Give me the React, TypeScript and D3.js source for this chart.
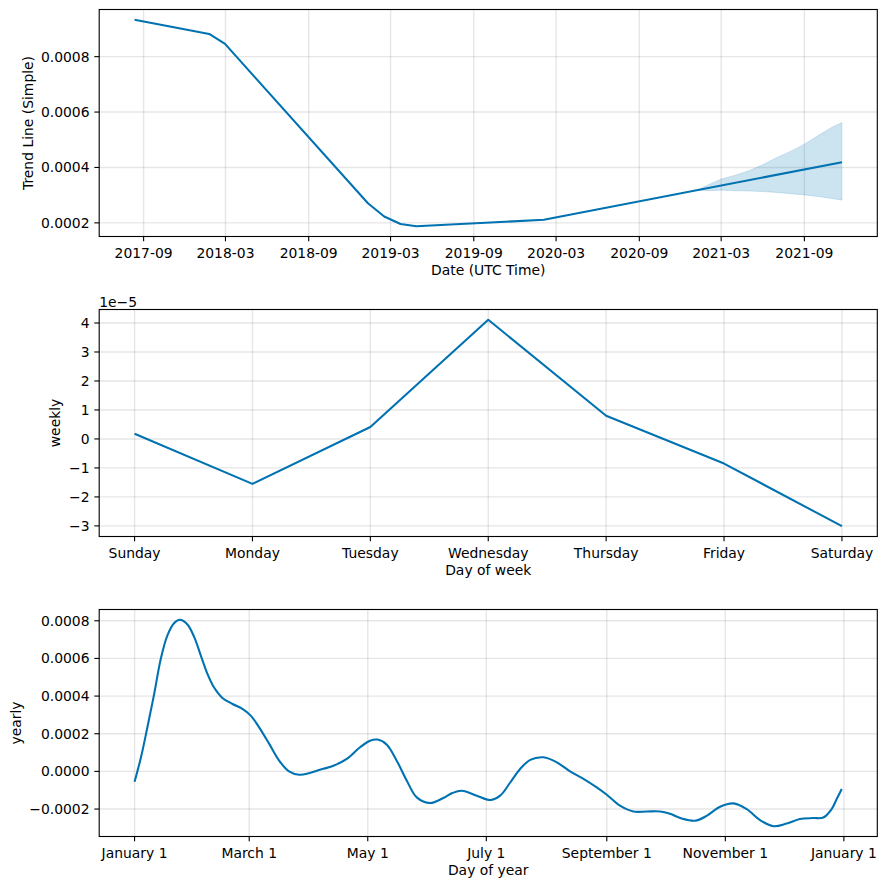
import React from "react";
import * as d3 from "d3";

// ---------- Data ----------
const trendDates = ["2017-08-12", "2018-01-24", "2018-02-28", "2019-01-10", "2019-02-15", "2019-03-23", "2019-04-27", "2020-02-03", "2021-11-23"];
const trendValues = [0.000933, 0.000882, 0.000846, 0.000271, 0.000223, 0.000196, 0.000188, 0.000211, 0.000419];

const bandDates = ["2021-01-06", "2021-02-01", "2021-03-01", "2021-04-01", "2021-05-01", "2021-06-01", "2021-07-01", "2021-08-01", "2021-09-01", "2021-10-01", "2021-11-01", "2021-11-23"];
const bandUpper = [0.000318, 0.000338, 0.000358, 0.000372, 0.000388, 0.00041, 0.000435, 0.000458, 0.000484, 0.000515, 0.000545, 0.000562];
const bandLower = [0.000318, 0.000316, 0.000318, 0.000316, 0.000315, 0.000313, 0.00031, 0.000305, 0.000301, 0.000295, 0.000288, 0.000282];

const trendTickLabels = ["2017-09", "2018-03", "2018-09", "2019-03", "2019-09", "2020-03", "2020-09", "2021-03", "2021-09"];
const trendYTicks = [0.0002, 0.0004, 0.0006, 0.0008];

const weekDays = ["Sunday", "Monday", "Tuesday", "Wednesday", "Thursday", "Friday", "Saturday"];
const weeklyValues = [0.18e-5, -1.55e-5, 0.41e-5, 4.11e-5, 0.8e-5, -0.85e-5, -3.01e-5];
const weeklyYTicks = [-3, -2, -1, 0, 1, 2, 3, 4];

const yearlyDays = [0, 3.3, 6.6, 10.1, 13.5, 16.9, 20.3, 23.4, 27.2, 30.7, 34.1, 37.5, 41, 45.2, 50.4, 55.5, 59.8, 64.1, 69.3, 74.4, 79.5, 84.7, 90, 93.8, 102.3, 109.2, 116, 121.2, 125, 129.8, 134.9, 140.1, 145.2, 152.1, 158.9, 163.5, 168.4, 176.1, 183, 188.1, 193.3, 198.4, 203.6, 210.4, 217.3, 224.1, 231, 237.8, 243, 249.8, 256.7, 263.5, 270.4, 275.5, 281.5, 288.4, 294.4, 301.3, 308.1, 315, 321.9, 328.7, 335.6, 342.4, 349.3, 354.4, 358.7, 361.3, 363.9];
const yearlyValues = [-0.000055, 0.000075, 0.000234, 0.000412, 0.000598, 0.000722, 0.000787, 0.000805, 0.00078, 0.000713, 0.000615, 0.000518, 0.000444, 0.00039, 0.000358, 0.000332, 0.000296, 0.000234, 0.000146, 0.000057, 0.0, -0.000018, -0.000009, 0.000004, 0.00003, 0.000066, 0.000128, 0.000163, 0.000169, 0.000142, 0.000057, -0.00005, -0.000138, -0.000168, -0.000141, -0.000115, -0.000103, -0.000129, -0.000152, -0.000129, -0.000059, 0.000013, 0.000061, 0.000075, 0.000048, 0.0, -0.00004, -0.000085, -0.000124, -0.000182, -0.000213, -0.000213, -0.000213, -0.000225, -0.00025, -0.000262, -0.000236, -0.000188, -0.00017, -0.0002, -0.000259, -0.000291, -0.000277, -0.000253, -0.000248, -0.000245, -0.0002, -0.000147, -0.000094];
const yearlyTickDays = [0, 59, 120, 181, 243, 304, 365];
const yearlyTickLabels = ["January 1", "March 1", "May 1", "July 1", "September 1", "November 1", "January 1"];
const yearlyYTicks = [-0.0002, 0, 0.0002, 0.0004, 0.0006, 0.0008];

// ---------- Layout ----------
const W = 886, H = 889;
const L = 99.2, R = 877.3;
const PH = 227;
const TOPS = [9.5, 309.5, 609.5];
const LINE = "#0072B2";
const FONT = "'DejaVu Sans', sans-serif";
const FS = 13.9;
const TICK = 4.86;

const parse = d3.utcParse("%Y-%m-%d");

function pad(ext: [number, number], frac = 0.05): [number, number] {
  const r = ext[1] - ext[0];
  return [ext[0] - r * frac, ext[1] + r * frac];
}

type Tick = { pos: number; label: string };

function Frame({ top, xTicks, yTicks, xLabel, yLabel, yLabelX, children }: {
  top: number; xTicks: Tick[]; yTicks: Tick[]; xLabel: string; yLabel: string; yLabelX: number; children?: React.ReactNode;
}) {
  const bottom = top + PH;
  return (
    <g>
      {/* grid */}
      {xTicks.map((t, i) => (
        <line key={"gx" + i} x1={t.pos} x2={t.pos} y1={top} y2={bottom} stroke="gray" strokeOpacity={0.2} strokeWidth={1.39} />
      ))}
      {yTicks.map((t, i) => (
        <line key={"gy" + i} x1={L} x2={R} y1={t.pos} y2={t.pos} stroke="gray" strokeOpacity={0.2} strokeWidth={1.39} />
      ))}
      <defs>
        <clipPath id={"clip" + top}>
          <rect x={L} y={top} width={R - L} height={PH} />
        </clipPath>
      </defs>
      <g clipPath={`url(#clip${top})`}>{children}</g>
      <rect x={L} y={top} width={R - L} height={PH} fill="none" stroke="#000" strokeWidth={1.11} />
      {xTicks.map((t, i) => (
        <g key={"tx" + i}>
          <line x1={t.pos} x2={t.pos} y1={bottom} y2={bottom + TICK} stroke="#000" strokeWidth={1.11} />
          <text x={t.pos} y={bottom + 21.5} textAnchor="middle" fontSize={FS} fontFamily={FONT} fill="#000">{t.label}</text>
        </g>
      ))}
      {yTicks.map((t, i) => (
        <g key={"ty" + i}>
          <line x1={L - TICK} x2={L} y1={t.pos} y2={t.pos} stroke="#000" strokeWidth={1.11} />
          <text x={L - 9.7} y={t.pos} dy="0.36em" textAnchor="end" fontSize={FS} fontFamily={FONT} fill="#000">{t.label}</text>
        </g>
      ))}
      <text x={(L + R) / 2} y={bottom + 38.5} textAnchor="middle" fontSize={FS} fontFamily={FONT} fill="#000">{xLabel}</text>
      <text transform={`translate(${yLabelX},${top + PH / 2}) rotate(-90)`} textAnchor="middle" fontSize={FS} fontFamily={FONT} fill="#000">{yLabel}</text>
    </g>
  );
}

export default function App() {
  // ---- Panel 1: trend ----
  const tDates = trendDates.map((d) => parse(d) as Date);
  const bDates = bandDates.map((d) => parse(d) as Date);
  const tExt = d3.extent(tDates) as [Date, Date];
  const [x0, x1] = pad([+tExt[0], +tExt[1]]);
  const x1s = d3.scaleUtc().domain([new Date(x0), new Date(x1)]).range([L, R]);
  const allTrend = [...trendValues, ...bandUpper, ...bandLower];
  const y1s = d3.scaleLinear().domain(pad(d3.extent(allTrend) as [number, number])).range([TOPS[0] + PH, TOPS[0]]);
  const trendLine = d3.line<number>().x((_, i) => x1s(tDates[i])).y((v) => y1s(v))(trendValues) || "";
  const bandArea = d3.area<number>().x((_, i) => x1s(bDates[i])).y0((_, i) => y1s(bandLower[i])).y1((v) => y1s(v))(bandUpper) || "";
  const t1x: Tick[] = trendTickLabels.map((s) => ({ pos: x1s(parse(s + "-01") as Date), label: s }));
  const t1y: Tick[] = trendYTicks.map((v) => ({ pos: y1s(v), label: d3.format(".4f")(v) }));

  // ---- Panel 2: weekly ----
  const x2s = d3.scaleLinear().domain(pad([0, weekDays.length - 1])).range([L, R]);
  const y2s = d3.scaleLinear().domain(pad(d3.extent(weeklyValues) as [number, number])).range([TOPS[1] + PH, TOPS[1]]);
  const weeklyLine = d3.line<number>().x((_, i) => x2s(i)).y((v) => y2s(v))(weeklyValues) || "";
  const t2x: Tick[] = weekDays.map((d, i) => ({ pos: x2s(i), label: d }));
  const t2y: Tick[] = weeklyYTicks.map((v) => ({ pos: y2s(v * 1e-5), label: d3.format("d")(v) }));

  // ---- Panel 3: yearly ----
  const x3s = d3.scaleLinear().domain(pad([0, 364])).range([L, R]);
  const y3s = d3.scaleLinear().domain(pad(d3.extent(yearlyValues) as [number, number])).range([TOPS[2] + PH, TOPS[2]]);
  const yearlyLine = d3.line<number>().x((_, i) => x3s(yearlyDays[i])).y((v) => y3s(v)).curve(d3.curveCatmullRom.alpha(0.5))(yearlyValues) || "";
  const t3x: Tick[] = yearlyTickDays.map((d, i) => ({ pos: x3s(d), label: yearlyTickLabels[i] }));
  const t3y: Tick[] = yearlyYTicks.map((v) => ({ pos: y3s(v), label: d3.format(".4f")(v) }));

  return (
    <svg width={W} height={H} style={{ position: "absolute", left: 0, top: 0, background: "#fff" }}>
      <rect width={W} height={H} fill="#fff" />
      <Frame top={TOPS[0]} xTicks={t1x} yTicks={t1y} xLabel="Date (UTC Time)" yLabel="Trend Line (Simple)" yLabelX={32.5}>
        <path d={bandArea} fill={LINE} fillOpacity={0.2} stroke={LINE} strokeOpacity={0.15} strokeWidth={1} />
        <path d={trendLine} fill="none" stroke={LINE} strokeWidth={2.08} strokeLinejoin="round" />
      </Frame>
      <Frame top={TOPS[1]} xTicks={t2x} yTicks={t2y} xLabel="Day of week" yLabel="weekly" yLabelX={59.5}>
        <path d={weeklyLine} fill="none" stroke={LINE} strokeWidth={2.08} strokeLinejoin="round" />
      </Frame>
      <text x={L} y={TOPS[1] - 3} fontSize={FS} fontFamily={FONT} fill="#000">1e−5</text>
      <Frame top={TOPS[2]} xTicks={t3x} yTicks={t3y} xLabel="Day of year" yLabel="yearly" yLabelX={20.5}>
        <path d={yearlyLine} fill="none" stroke={LINE} strokeWidth={2.08} strokeLinejoin="round" />
      </Frame>
    </svg>
  );
}
